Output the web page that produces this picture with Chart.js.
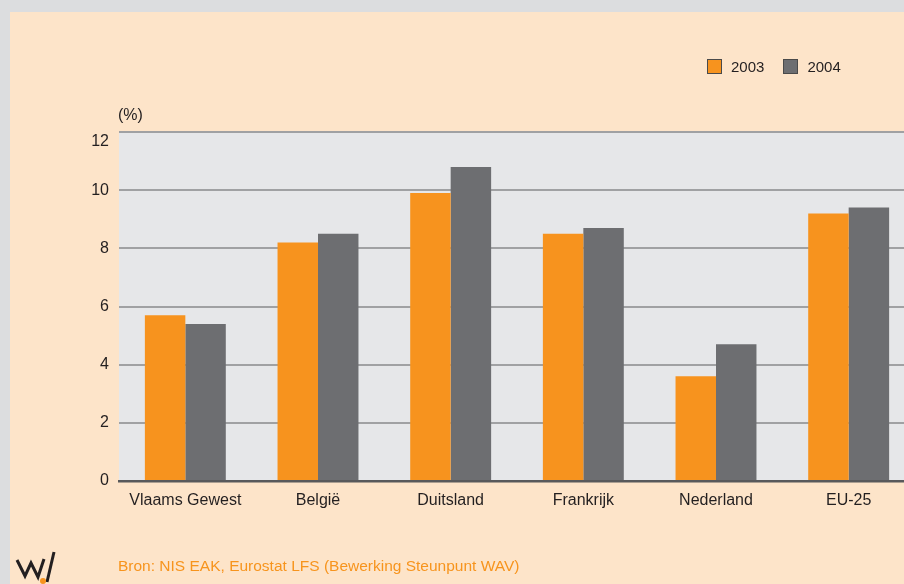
<!DOCTYPE html>
<html>
<head>
<meta charset="utf-8">
<script src="https://cdn.jsdelivr.net/npm/chart.js@4"></script>
<style>
  html, body { margin: 0; padding: 0; width: 904px; height: 584px; overflow: hidden; background: #dcdddf; }
  #panel { position: absolute; left: 10px; top: 12px; width: 900px; height: 580px; background: #fde4c9; }
  #wrap { position: absolute; left: 0; top: 0; width: 930px; height: 584px; }
  .txt { position: absolute; color: #231f20; white-space: nowrap; }
  #unit { left: 118px; top: 106px; font: 16px 'Liberation Sans', Arial, sans-serif; }
  #source { left: 118px; top: 557px; font: 15.5px 'Liberation Sans', Arial, sans-serif; color: #f7941d; }
  #legend { position: absolute; left: 707px; top: 58px; font: 15px 'Liberation Sans', Arial, sans-serif; color: #231f20; display: flex; align-items: center; }
  .item { display: flex; align-items: center; margin-right: 19px; }
  .box { width: 13px; height: 13px; border: 1px solid #4a4a4a; margin-right: 9px; }
  #logo { position: absolute; left: 0; top: 540px; }
</style>
</head>
<body>
<div id="panel"></div>
<div id="wrap"><canvas id="c" width="930" height="584"></canvas></div>
<div class="txt" id="unit">(%)</div>
<div id="legend"></div>
<div class="txt" id="source">Bron: NIS EAK, Eurostat LFS (Bewerking Steunpunt WAV)</div>
<svg id="logo" width="70" height="44" viewBox="0 540 70 44">
  <polyline points="17,560 25,576 31,563 38,577 44,559" fill="none" stroke="#231f20" stroke-width="3" stroke-linejoin="miter"/>
  <line x1="47" y1="582" x2="54" y2="552" stroke="#231f20" stroke-width="3"/>
  <circle cx="43" cy="581" r="3" fill="#f7931e"/>
</svg>
<script>
const categories = ["Vlaams Gewest", "België", "Duitsland", "Frankrijk", "Nederland", "EU-25"];
const seriesNames = ["2003", "2004"];
const values2003 = [5.7, 8.2, 9.9, 8.5, 3.6, 9.2];
const values2004 = [5.4, 8.5, 10.8, 8.7, 4.7, 9.4];
const colors = ["#f7931e", "#6d6e71"];
const yTicks = [0, 2, 4, 6, 8, 10, 12];

// HTML legend built from series names
const leg = document.getElementById('legend');
seriesNames.forEach((n, i) => {
  const it = document.createElement('div'); it.className = 'item';
  const b = document.createElement('div'); b.className = 'box'; b.style.background = colors[i];
  const t = document.createElement('span'); t.textContent = n;
  it.appendChild(b); it.appendChild(t); leg.appendChild(it);
});

const plotBg = {
  id: 'plotBg',
  beforeDraw(chart) {
    const { ctx, chartArea: a } = chart;
    ctx.save();
    ctx.fillStyle = '#e6e7e9';
    ctx.fillRect(a.left, a.top, a.right - a.left, a.bottom - a.top);
    ctx.restore();
  }
};

const tickFont = { family: "'Liberation Sans', Arial, sans-serif", size: 16 };
const topTick = yTicks[yTicks.length - 1];

new Chart(document.getElementById('c'), {
  type: 'bar',
  data: {
    labels: categories,
    datasets: [
      { label: seriesNames[0], data: values2003, backgroundColor: colors[0], borderWidth: 0 },
      { label: seriesNames[1], data: values2004, backgroundColor: colors[1], borderWidth: 0 }
    ]
  },
  options: {
    responsive: false,
    animation: false,
    devicePixelRatio: 1,
    categoryPercentage: 0.61,
    barPercentage: 1.0,
    layout: { padding: { top: 132, right: 15, left: 0, bottom: 63 } },
    plugins: { legend: { display: false }, tooltip: { enabled: false } },
    scales: {
      x: {
        grid: { display: false, drawTicks: false },
        border: { display: true, color: '#58595b', width: 2.5 },
        ticks: { font: tickFont, color: '#231f20', padding: 10, maxRotation: 0 },
        afterFit(s) { s.height = 40; }
      },
      y: {
        min: 0, max: topTick,
        afterBuildTicks(s) { s.ticks = yTicks.map(v => ({ value: v })); },
        grid: {
          drawTicks: false,
          color: (c) => c.tick && c.tick.value === 0 ? '#58595b' : '#a0a1a3',
          lineWidth: 2
        },
        border: { display: false },
        ticks: {
          font: tickFont, color: '#231f20', padding: 10,
          callback: (v) => v === topTick ? ['', String(v)] : String(v)
        },
        afterFit(s) { s.width = 119; }
      }
    }
  },
  plugins: [plotBg]
});
</script>
</body>
</html>
